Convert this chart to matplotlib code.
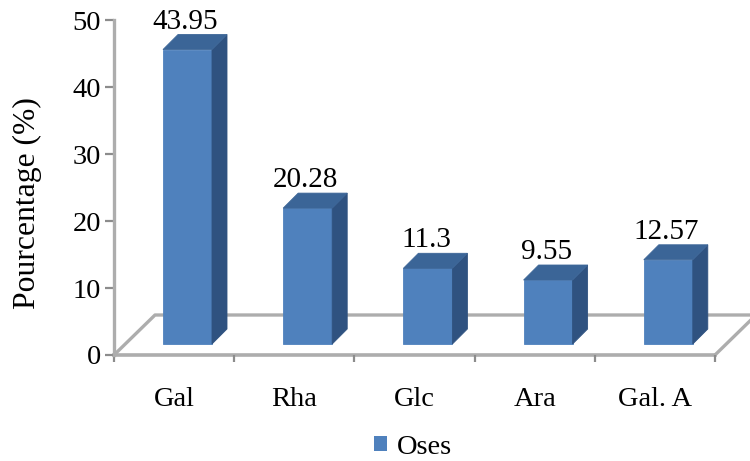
import matplotlib.pyplot as plt

categories = ["Gal", "Rha", "Glc", "Ara", "Gal. A"]
values = [43.95, 20.28, 11.3, 9.55, 12.57]
value_labels = ["43.95", "20.28", "11.3", "9.55", "12.57"]
y_ticks = [0, 10, 20, 30, 40, 50]

FRONT = "#4f81bd"
SIDE = "#2f5280"
TOP = "#3b6597"
GRID = "#adadad"

plt.rcParams["font.family"] = ["Liberation Serif", "DejaVu Serif"]

W, H = 750, 461
fig = plt.figure(figsize=(W / 100, H / 100), dpi=100)
# axes box in pixels: x 114-715, y 20-355
ax = fig.add_axes([114 / W, 1 - 355 / H, (715 - 114) / W, (355 - 20) / H])
ax.set_xlim(0, 5)
ax.set_ylim(0, 50)

# pseudo 3d offsets in data units
px_x = 5 / (715 - 114)
px_y = 50 / (355 - 20)
depth_x = 15 * px_x
depth_y = 15 * px_y
lift = 11 * px_y
bar_w = 49 * px_x
bar_off = 49 * px_x

# floor
floor_x = 41 * px_x
floor_y = 40 * px_y
ax.plot([0, floor_x, 5.4], [0, floor_y, floor_y], color=GRID, lw=2.4, clip_on=False, zorder=1)
ax.plot([5, 5 + floor_x], [0, floor_y], color=GRID, lw=2.4, clip_on=False, zorder=1)
ax.plot([0, 5], [0, 0], color=GRID, lw=2.6, clip_on=False, zorder=1)

for i, v in enumerate(values):
    x0 = i + bar_off
    x1 = x0 + bar_w
    y0 = lift
    y1 = lift + v
    ax.fill([x0, x1, x1, x0], [y0, y0, y1, y1], color=FRONT, lw=0.6, zorder=3, clip_on=False)
    ax.fill([x1, x1 + depth_x, x1 + depth_x, x1],
            [y0, y0 + depth_y, y1 + depth_y, y1], color=SIDE, lw=0.6, zorder=3, clip_on=False)
    ax.fill([x0, x1, x1 + depth_x, x0 + depth_x],
            [y1, y1, y1 + depth_y, y1 + depth_y], color=TOP, lw=0.6, zorder=3, clip_on=False)
    ax.text(x0 + bar_w / 2 - 2 * px_x, y1 + depth_y + 6 * px_y, value_labels[i], ha="center", va="baseline",
            fontsize=21, color="black", zorder=4, clip_on=False)

for side in ["top", "right", "bottom"]:
    ax.spines[side].set_visible(False)
ax.spines["left"].set_color(GRID)
ax.spines["left"].set_linewidth(2.4)

ax.set_yticks(y_ticks)
ax.tick_params(axis="y", length=6.5, width=1.6, color="#8c8c8c", labelsize=20.5, pad=3)
ax.set_xticks(range(6))
ax.set_xticklabels([])
ax.tick_params(axis="x", length=5, width=1.6, color="#8c8c8c")

for i, name in enumerate(categories):
    ax.text(i + 0.5, -44 * px_y, name, ha="center", va="center", fontsize=20.5, color="black")

fig.text(27 / W, 1 - 203 / H, "Pourcentage (%)", rotation=90, ha="center", va="center", fontsize=22.8)

handle = plt.Rectangle((0, 0), 1, 1, color=FRONT, lw=0)
fig.legend([handle], ["Oses"], loc="center", bbox_to_anchor=(413 / W, 1 - 447 / H), frameon=False,
           fontsize=20.5, handlelength=0.46, handleheight=0.46, handletextpad=0.36, borderpad=0)

fig.savefig("out.png", dpi=100)
